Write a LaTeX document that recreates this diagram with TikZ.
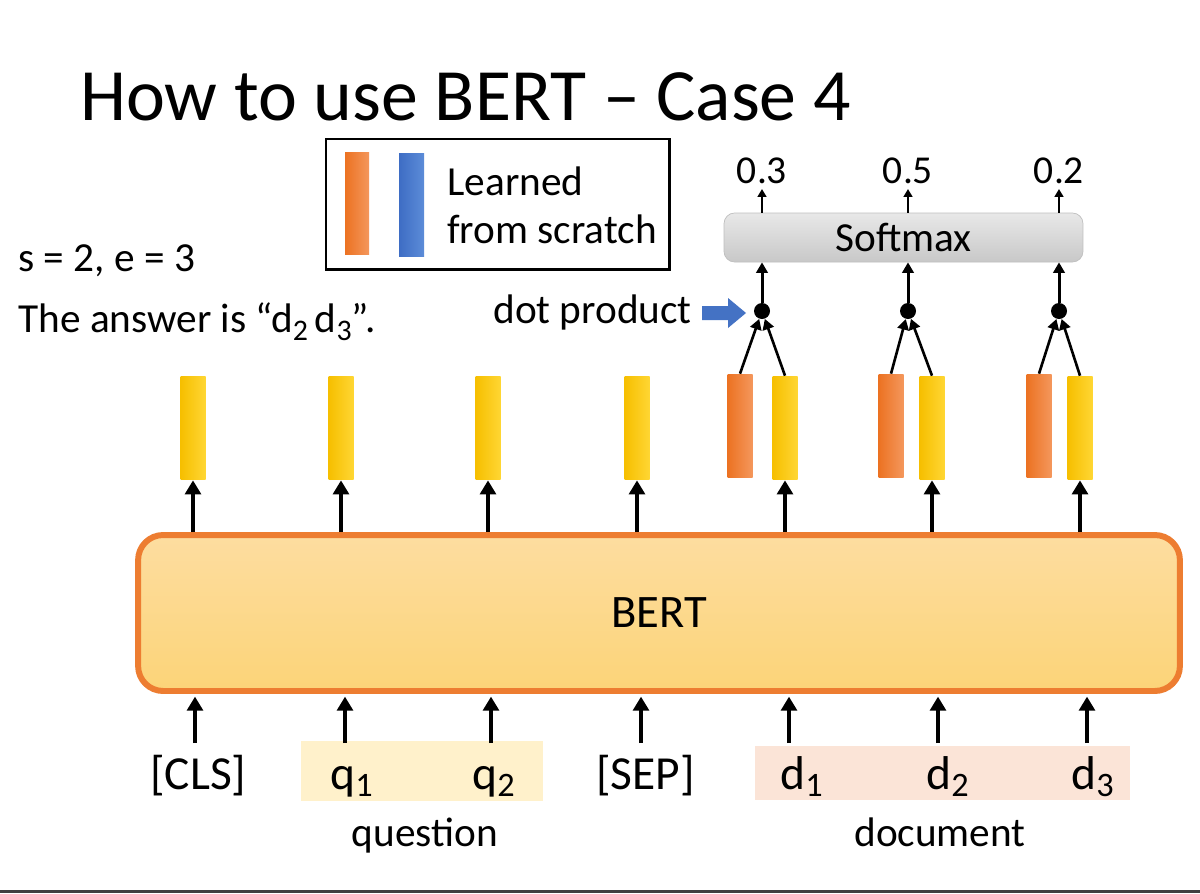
\documentclass[tikz,border=0pt]{standalone}
\usepackage{fontspec}
\setmainfont{Carlito}
\usetikzlibrary{arrows.meta}
\definecolor{bertOrange}{HTML}{ED7D31}
\definecolor{bertFillTop}{HTML}{FDDDA0}
\definecolor{bertFillBot}{HTML}{FCD478}
\definecolor{vecYellowL}{HTML}{F6BF00}
\definecolor{vecYellowR}{HTML}{FFD633}
\definecolor{vecOrangeL}{HTML}{EC7222}
\definecolor{vecOrangeR}{HTML}{F4975C}
\definecolor{vecBlueL}{HTML}{3E6DC4}
\definecolor{vecBlueR}{HTML}{5C8CD8}
\definecolor{softTop}{HTML}{E8E8E8}
\definecolor{softBot}{HTML}{C8C8C8}
\definecolor{qHigh}{HTML}{FFF1CB}
\definecolor{dHigh}{HTML}{FBE4D7}
\definecolor{ptrBlue}{HTML}{4472C4}
\newcommand{\slideTitle}{\fontsize{42}{50}\selectfont}
\newcommand{\slideText}{\fontsize{23.5}{28}\selectfont}
\newcommand{\slideTok}{\fontsize{27}{32}\selectfont}
\newcommand{\slideBert}{\fontsize{26.5}{32}\selectfont}
\newcommand{\slideNum}{\fontsize{22.5}{27}\selectfont}
\newcommand{\tokSub}[1]{\raisebox{-4.5pt}{\fontsize{19.5}{20}\selectfont #1}}
\newcommand{\txtSub}[1]{\raisebox{-5pt}{\fontsize{17}{18}\selectfont #1}}

\begin{document}
\begin{tikzpicture}[x=0.02cm,y=-0.02cm,
  every node/.style={inner sep=0pt},
  arr/.style={line width=2.1pt,-{Triangle[length=8pt,width=9pt]}},
  sarr/.style={line width=1.7pt,-{Triangle[length=6pt,width=6.5pt]}},
  tarr/.style={line width=1.2pt,-{Triangle[length=4.5pt,width=5pt]}},
  vec/.style={minimum width=0.5cm,minimum height=2.08cm},
  yvec/.style={vec,left color=vecYellowL,right color=vecYellowR},
  ovec/.style={vec,left color=vecOrangeL,right color=vecOrangeR},
  bvec/.style={vec,left color=vecBlueL,right color=vecBlueR},
  dotp/.style={circle,fill=black,minimum size=0.32cm},
  num/.style={font=\slideNum,anchor=south,inner sep=2.5pt},
  txt/.style={font=\slideText,anchor=base west}]
      \fill[white] (0,0) rectangle (1200,893);
      \useasboundingbox (0,0) rectangle (1200,893);
      \fill[black!75] (0,890) rectangle (1200,893);
      % title and notes
      \node[font=\slideTitle,anchor=base west] (title) at (80,120) {How to use BERT – Case 4};
      \node[txt] (se) at (18,271) {s = 2, e = 3};
      \node[txt] (ans) at (18,332) {The answer is “d\txtSub{2}\,d\txtSub{3}”.};
      % legend
      \draw[line width=1.7pt] (326,139) rectangle (669,269);
      \node[ovec,minimum width=0.48cm,minimum height=2.06cm] (lego) at (357,203.5) {};
      \node[bvec,minimum width=0.5cm,minimum height=2.08cm] (legb) at (411.5,205) {};
      \node[txt] (learned) at (447,195) {Learned};
      \node[txt] (scratch) at (447,243) {from scratch};
      % BERT
      \node[draw=bertOrange,line width=3.4pt,rounded corners=0.5cm,
        top color=bertFillTop,bottom color=bertFillBot,
        minimum width=20.84cm,minimum height=3.12cm,font=\slideBert] (bert) at (659,613) {BERT};
      % inputs
      \fill[qHigh] (301,741) rectangle (543,801);
      \fill[dHigh] (755,746) rectangle (1130,800);
      \foreach \x/\l/\t [count=\i] in {195/150/{[CLS]}, 345/330/{q\tokSub{1}},
          491/472/{q\tokSub{2}}, 641/596/{[SEP]}, 789/780/{d\tokSub{1}},
          938/926/{d\tokSub{2}}, 1087/1071/{d\tokSub{3}}} {
        \node[font=\slideTok,anchor=base west] (tok\i) at (\l,789) {\t};
        \coordinate (in\i) at (\x,743);
        \draw[arr,shorten >=1.5pt] (in\i) -- (in\i |- bert.south);
      }
      \node[font=\slideText,anchor=base] (question) at (425,846) {question};
      \node[font=\slideText,anchor=base] (document) at (940,846) {document};
      % outputs
      \foreach \x [count=\i] in {193,341,488,637} {
        \node[yvec] (s\i) at (\x,428) {};
        \draw[arr] (s\i |- bert.north) -- (s\i.south);
      }
      \node[font=\slideText,align=center,
        top color=softTop,bottom color=softBot,draw=black!25,rounded corners=6pt,
        minimum width=7.18cm,minimum height=0.98cm] (soft) at (903.5,237.5) {Softmax};
      \foreach \ox/\yx/\px/\v [count=\i] in {740/785/762/0.3, 891/932/908/0.5, 1039/1080/1059/0.2} {
        \node[ovec] (o\i) at (\ox,426) {};
        \node[yvec] (y\i) at (\yx,428) {};
        \draw[arr] (y\i |- bert.north) -- (y\i.south);
        \node[dotp] (p\i) at (\px,311) {};
        \draw[sarr,line width=1.5pt] (o\i.north) -- (p\i);
        \draw[sarr,line width=1.5pt] (y\i.north) -- (p\i);
        \draw[sarr] (p\i) -- (p\i |- soft.south);
        \node[num] (n\i) at (\px,189) {\v};
        \draw[tarr] (p\i |- soft.north) -- (n\i.south);
      }
      % dot product pointer
      \node[txt] (dotprod) at (493,323) {dot product};
      \fill[ptrBlue] (702,306) -- (728,306) -- (728,298) -- (746,313)
        -- (728,328) -- (728,320) -- (702,320) -- cycle;
    \end{tikzpicture}
\end{document}
